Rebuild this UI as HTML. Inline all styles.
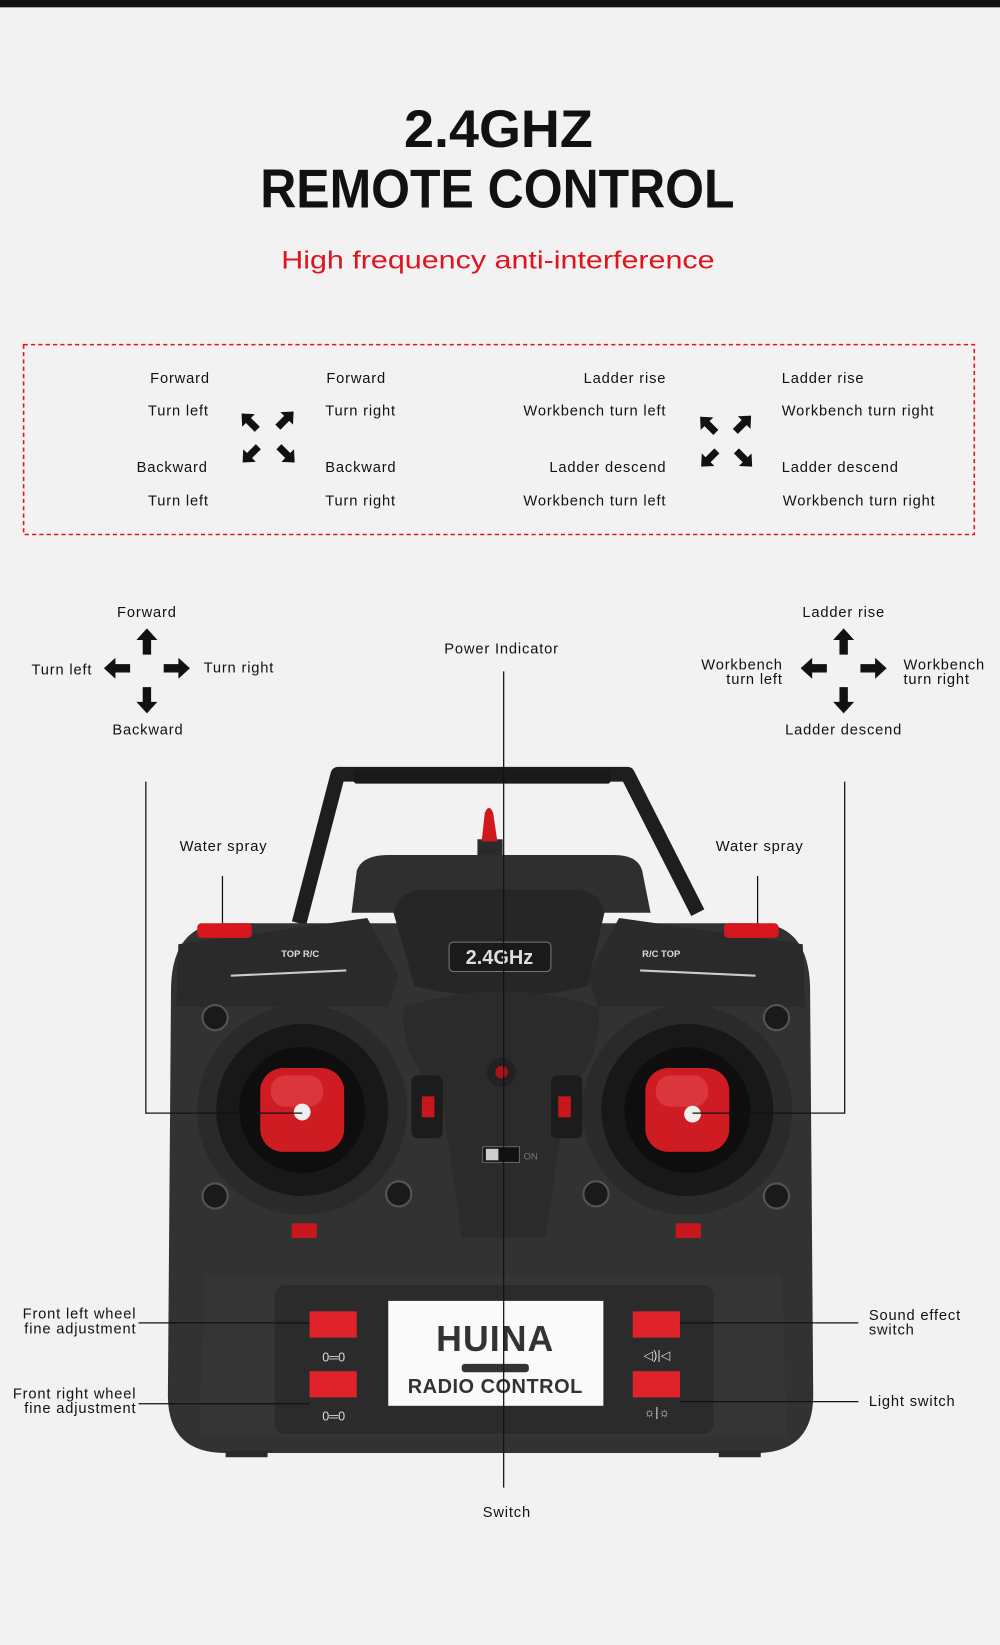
<!DOCTYPE html>
<html><head><meta charset="utf-8"><style>
html,body{margin:0;padding:0;background:#f2f2f2;}
svg{display:block;}
text{font-family:"Liberation Sans",sans-serif;fill:#111;}
.l{font-size:14px;letter-spacing:0.8px;}
</style></head><body>
<svg width="1000" height="1645" viewBox="0 0 953 1568" preserveAspectRatio="none" xmlns="http://www.w3.org/2000/svg">
<defs>
<g id="ar"><polygon points="-12,-4 2,-4 2,-10 13,0 2,10 2,4 -12,4" fill="#111"/></g>
</defs>
<rect x="0" y="0" width="953" height="1568" fill="#f2f2f2"/>
<rect x="0" y="0" width="953" height="7" fill="#111"/>
<text x="385" y="140" textLength="180" lengthAdjust="spacingAndGlyphs" style="font-size:50px;font-weight:900;">2.4GHZ</text>
<text x="248" y="198" textLength="452" lengthAdjust="spacingAndGlyphs" style="font-size:52px;font-weight:900;">REMOTE CONTROL</text>
<text x="268" y="256" textLength="413" lengthAdjust="spacingAndGlyphs" style="font-size:24px;fill:#e0141c;">High frequency anti-interference</text>
<rect x="22.5" y="328.5" width="906" height="181" fill="none" stroke="#e0141c" stroke-width="1.5" stroke-dasharray="4,3"/>
<g class="l">
<text x="200" y="365" text-anchor="end" class="l">Forward</text>
<text x="199" y="396" text-anchor="end" class="l">Turn left</text>
<text x="198" y="450" text-anchor="end" class="l">Backward</text>
<text x="199" y="482" text-anchor="end" class="l">Turn left</text>
<text x="311" y="365" class="l">Forward</text>
<text x="310" y="396" class="l">Turn right</text>
<text x="310" y="450" class="l">Backward</text>
<text x="310" y="482" class="l">Turn right</text>
<text x="635" y="365" text-anchor="end" class="l">Ladder rise</text>
<text x="635" y="396" text-anchor="end" class="l">Workbench turn left</text>
<text x="635" y="450" text-anchor="end" class="l">Ladder descend</text>
<text x="635" y="482" text-anchor="end" class="l">Workbench turn left</text>
<text x="745" y="365" class="l">Ladder rise</text>
<text x="745" y="396" class="l">Workbench turn right</text>
<text x="745" y="450" class="l">Ladder descend</text>
<text x="746" y="482" class="l">Workbench turn right</text>
</g>
<use href="#ar" transform="translate(238,402) rotate(-135) scale(0.85)"/>
<use href="#ar" transform="translate(272,400) rotate(-45) scale(0.85)"/>
<use href="#ar" transform="translate(239,433) rotate(135) scale(0.85)"/>
<use href="#ar" transform="translate(273,433) rotate(45) scale(0.85)"/>
<use href="#ar" transform="translate(675,405) rotate(-135) scale(0.85)"/>
<use href="#ar" transform="translate(708,404) rotate(-45) scale(0.85)"/>
<use href="#ar" transform="translate(676,437) rotate(135) scale(0.85)"/>
<use href="#ar" transform="translate(709,437) rotate(45) scale(0.85)"/>

<use href="#ar" transform="translate(140,612) rotate(-90)"/>
<use href="#ar" transform="translate(140,667) rotate(90)"/>
<use href="#ar" transform="translate(112,637) rotate(180)"/>
<use href="#ar" transform="translate(168,637)"/>
<use href="#ar" transform="translate(804,612) rotate(-90)"/>
<use href="#ar" transform="translate(804,667) rotate(90)"/>
<use href="#ar" transform="translate(776,637) rotate(180)"/>
<use href="#ar" transform="translate(832,637)"/>
<g>
<text x="140" y="588" text-anchor="middle" class="l">Forward</text>
<text x="88" y="643" text-anchor="end" class="l">Turn left</text>
<text x="194" y="641" class="l">Turn right</text>
<text x="141" y="700" text-anchor="middle" class="l">Backward</text>
<text x="478" y="623" text-anchor="middle" class="l">Power Indicator</text>
<text x="804" y="588" text-anchor="middle" class="l">Ladder rise</text>
<text x="746" y="638" text-anchor="end" class="l">Workbench</text>
<text x="746" y="652" text-anchor="end" class="l">turn left</text>
<text x="861" y="638" class="l">Workbench</text>
<text x="861" y="652" class="l">turn right</text>
<text x="804" y="700" text-anchor="middle" class="l">Ladder descend</text>
<text x="213" y="811" text-anchor="middle" class="l">Water spray</text>
<text x="724" y="811" text-anchor="middle" class="l">Water spray</text>
<text x="130" y="1257" text-anchor="end" class="l">Front left wheel</text>
<text x="130" y="1271" text-anchor="end" class="l">fine adjustment</text>
<text x="130" y="1333" text-anchor="end" class="l">Front right wheel</text>
<text x="130" y="1347" text-anchor="end" class="l">fine adjustment</text>
<text x="828" y="1258" class="l">Sound effect</text>
<text x="828" y="1272" class="l">switch</text>
<text x="828" y="1340" class="l">Light switch</text>
<text x="483" y="1446" text-anchor="middle" class="l">Switch</text>
</g>

<path d="M285,880 L322,738 L598,738 L665,870" fill="none" stroke="#1e1e1e" stroke-width="14" stroke-linejoin="round"/>
<rect x="337" y="733" width="245" height="14" rx="3" fill="#1a1a1a"/>
<rect x="455" y="800" width="24" height="22" fill="#2a2a2a"/>
<path d="M459,802 L462,775 Q466,765 470,775 L474,802 Z" fill="#d0181f"/>
<path d="M340,830 Q345,815 370,815 L585,815 Q608,815 612,830 L620,870 L335,870 Z" fill="#2f2f2f"/>
<path d="M215,880 Q165,880 163,940 L160,1330 Q160,1385 215,1385 L720,1385 Q775,1385 775,1330 L772,940 Q770,880 720,880 Z" fill="#323232"/>
<path d="M170,900 L350,875 L380,930 L370,960 L168,960 Z" fill="#2a2a2a"/>
<path d="M765,900 L590,875 L560,930 L570,960 L767,960 Z" fill="#2a2a2a"/>
<path d="M375,870 Q380,848 405,848 L545,848 Q572,848 576,870 L560,940 Q480,960 395,940 Z" fill="#262626"/>
<rect x="428" y="898" width="97" height="28" rx="4" fill="#1a1a1a" stroke="#777" stroke-width="1"/>
<text x="476" y="919" text-anchor="middle" style="font-size:19px;font-weight:bold;fill:#ddd">2.4GHz</text>
<text x="268" y="912" style="font-size:9px;fill:#ddd;font-weight:bold">TOP   R/C</text>
<text x="612" y="912" style="font-size:9px;fill:#ddd;font-weight:bold">R/C   TOP</text>
<path d="M220,930 L330,925 M610,925 L720,930" stroke="#ccc" stroke-width="2"/>
<rect x="188" y="880" width="52" height="14" rx="4" fill="#d8161d"/>
<rect x="690" y="880" width="52" height="14" rx="4" fill="#d8161d"/>
<path d="M385,960 Q380,1010 420,1040 L440,1180 L520,1180 L540,1040 Q575,1010 570,960 Q480,930 385,960 Z" fill="#2b2b2b"/>
<circle cx="478" cy="1022" r="14" fill="#222"/>
<circle cx="478" cy="1022" r="6" fill="#b01018"/>
<rect x="460" y="1093" width="35" height="15" fill="#111" stroke="#666"/>
<rect x="463" y="1095" width="12" height="11" fill="#ccc"/>
<text x="499" y="1105" style="font-size:9px;fill:#777">ON</text>
<g>
<circle cx="288" cy="1058" r="100" fill="#2a2a2a"/>
<circle cx="288" cy="1058" r="82" fill="#181818"/>
<circle cx="288" cy="1058" r="60" fill="#0e0e0e"/>
<rect x="248" y="1018" width="80" height="80" rx="22" fill="#cf1b22"/>
<rect x="258" y="1025" width="50" height="30" rx="14" fill="#e85058" opacity="0.5"/>
<circle cx="288" cy="1060" r="8" fill="#eee"/>
<circle cx="655" cy="1058" r="100" fill="#2a2a2a"/>
<circle cx="655" cy="1058" r="82" fill="#181818"/>
<circle cx="655" cy="1058" r="60" fill="#0e0e0e"/>
<rect x="615" y="1018" width="80" height="80" rx="22" fill="#cf1b22"/>
<rect x="625" y="1025" width="50" height="30" rx="14" fill="#e85058" opacity="0.5"/>
<circle cx="660" cy="1062" r="8" fill="#eee"/>
</g>
<g fill="#1a1a1a" stroke="#555" stroke-width="2">
<circle cx="205" cy="970" r="12"/><circle cx="205" cy="1140" r="12"/>
<circle cx="380" cy="1138" r="12"/><circle cx="568" cy="1138" r="12"/>
<circle cx="740" cy="970" r="12"/><circle cx="740" cy="1140" r="12"/>
</g>
<rect x="392" y="1025" width="30" height="60" rx="6" fill="#1c1c1c"/>
<rect x="402" y="1045" width="12" height="20" fill="#c8161d"/>
<rect x="525" y="1025" width="30" height="60" rx="6" fill="#1c1c1c"/>
<rect x="532" y="1045" width="12" height="20" fill="#c8161d"/>
<rect x="278" y="1166" width="24" height="14" fill="#c8161d"/>
<rect x="644" y="1166" width="24" height="14" fill="#c8161d"/>
<path d="M195,1215 L745,1215 L750,1370 L190,1370 Z" fill="#353535"/>
<rect x="262" y="1225" width="418" height="142" rx="10" fill="#2b2b2b"/>
<rect x="370" y="1240" width="205" height="100" fill="#fafafa"/>
<text x="472" y="1288" text-anchor="middle" style="font-size:34px;font-weight:bold;fill:#333;letter-spacing:1px">HUINA</text>
<rect x="440" y="1300" width="64" height="8" rx="3" fill="#333"/>
<text x="472" y="1328" text-anchor="middle" style="font-size:19px;font-weight:bold;fill:#333;letter-spacing:0.5px">RADIO CONTROL</text>
<rect x="295" y="1250" width="45" height="25" fill="#e0222a"/>
<rect x="295" y="1307" width="45" height="25" fill="#e0222a"/>
<rect x="603" y="1250" width="45" height="25" fill="#e0222a"/>
<rect x="603" y="1307" width="45" height="25" fill="#e0222a"/>
<text x="318" y="1298" text-anchor="middle" style="font-size:12px;fill:#ddd">0═0</text>
<text x="318" y="1354" text-anchor="middle" style="font-size:12px;fill:#ddd">0═0</text>
<text x="626" y="1296" text-anchor="middle" style="font-size:12px;fill:#ddd">◁)|◁</text>
<text x="626" y="1350" text-anchor="middle" style="font-size:12px;fill:#ddd">☼|☼</text>
<rect x="215" y="1383" width="40" height="6" fill="#2a2a2a"/>
<rect x="685" y="1383" width="40" height="6" fill="#2a2a2a"/>

<g stroke="#111" stroke-width="1.2" fill="none">
<path d="M480,640 L480,1418"/>
<path d="M139,745 L139,1061 L288,1061"/>
<path d="M805,745 L805,1061 L660,1061"/>
<path d="M212,835 L212,880"/>
<path d="M722,835 L722,880"/>
<path d="M132,1261 L295,1261"/>
<path d="M132,1338 L295,1338"/>
<path d="M648,1261 L818,1261"/>
<path d="M648,1336 L818,1336"/>
</g>
</svg>
</body></html>
